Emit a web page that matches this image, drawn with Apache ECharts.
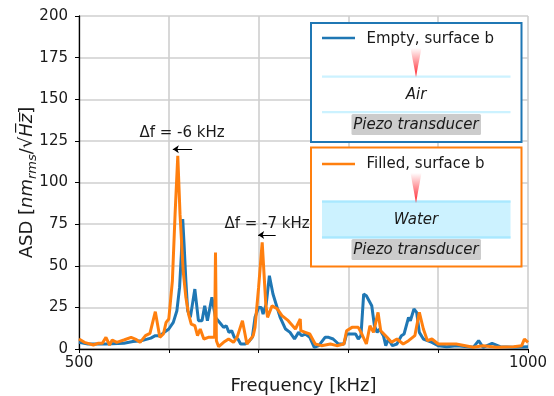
<!DOCTYPE html>
<html>
<head>
<meta charset="utf-8">
<style>html,body{margin:0;padding:0;background:#fff}#chart{width:554px;height:396px}</style>
<script src="https://cdn.jsdelivr.net/npm/echarts@6/dist/echarts.min.js"></script>
</head>
<body>
<div id="chart"></div>
<script>
// values
const emptyFreq = [500,510,530,550,560,570,580,585,590,595,600,605,609,612,614,615.5,617,619,621,624,626,629,633,637,640,643,648,652,655,658,661,664,667,670,673,677,680,685,690,693,696,700,703,705,708.5,712,716,720,724,730,735,740,744.5,748,752,757,762,767,774,778,783,789,795,798,803,808,811,814,817,820,826,829,832,834.5,839,841.6,844.5,849,854,859,862,867,869,873,876,879,883.5,893,900,909.5,920.6,939,945,950,960,969,984,1000];
const emptyAsd = [4,3,3,3.5,4.5,5,6.5,8,8,10,12,16,23,37,57,78,63,41,23,19,20,36,17,17,26,17,31,19,17,15,13,14,10,11,7,6,3,3,5,7,19,25,25,21,27,44,33,26,19,12,10,6,10,8,9,7,1,2,7,7,6,3,3,9,9,9,6,8,33,32,26,14,10,12,8,2,6,2,3,8,9,19,17,24,22,10,6,4,2,1.4,2,1,5,1,3.4,1.4,1,1.4];
const filledFreq = [500,502,506,510,516,521,526,530,534,537,542,550,558,564,568,574,579,585,590,594,597,600,604,607,610,612.5,616,619,622,625,629,632,635,639,644,651,652,653,655.5,661,666.6,672,676,682,687,694,696,700,704,708,710,715,721,726,733,741,746.4,747,752,757,763,770,780,787,795,798,804,805.6,811,815,820,824,828,833,836,843,848,854,861,867,874,879,883.5,888,893,900,920,939,950,965,984,993,996,1000];
const filledAsd = [6,5,4,3.4,2.4,3.4,3.4,7,2.4,5.4,4,5.4,7,5.6,4,8,9.4,22.4,7,9,16,18,41,81,116,81,47,31,21,15,14,8,12,6,7,7,58,5,1.4,4,6,4,7,17,3,8,13,37,64,27,19,26,24,20,17,12,18,11,10,9,3,2,3,2,3,11,13,14,13,9,3,14,10,22,11,7,4,6,3,5,8,22,12,5,6,3,3,1,2,1,1.4,2,6,4];
const yTicks = [0,25,50,75,100,125,150,175,200];
const xLabelled = [500,1000];

const FONT = '"DejaVu Sans"';
const BLUE = '#1f77b4';
const ORANGE = '#ff7f0e';
const WATER = '#ccf2ff';
const WATER_EDGE = '#a9e8ff';

const zip = (a, b) => a.map((v, i) => [v, b[i]]);

function cone(cx, top, bottom) {
  return {
    type: 'polygon', z: 20,
    shape: {points: [[cx - 5.5, top], [cx + 5.5, top], [cx, bottom]]},
    style: {fill: new echarts.graphic.LinearGradient(0, 0, 0, 1, [
      {offset: 0, color: 'rgba(255,30,40,0)'},
      {offset: 1, color: 'rgba(255,30,40,1)'}
    ])}
  };
}
function label(text, x, y, size, italic, align) {
  return {
    type: 'text', z: 25, x: x, y: y,
    style: {text: text, font: (italic ? 'italic ' : '') + size + 'px ' + FONT, fill: '#1a1a1a',
      align: align || 'center', verticalAlign: 'middle'}
  };
}
function rect(x, y, w, h, fill, extra) {
  return Object.assign({type: 'rect', z: 18, shape: {x: x, y: y, width: w, height: h}, style: {fill: fill}}, extra || {});
}

const chart = echarts.init(document.getElementById('chart'), null, {renderer: 'canvas'});
chart.setOption({
  animation: false,
  backgroundColor: '#fff',
  textStyle: {fontFamily: FONT},
  grid: {left: 79, right: 26, top: 16, bottom: 47, outerBoundsMode: 'none'},
  xAxis: {
    type: 'value', min: 500, max: 1000, interval: 100,
    name: 'Frequency [kHz]', nameLocation: 'middle', nameGap: 28,
    nameTextStyle: {fontSize: 18, color: '#1a1a1a'},
    axisLine: {onZero: false, lineStyle: {color: '#000', width: 1.3}},
    axisTick: {length: 4, lineStyle: {color: '#000', width: 1}},
    axisLabel: {fontSize: 15, color: '#1a1a1a', margin: 7, showMinLabel: true, showMaxLabel: true,
      formatter: v => xLabelled.includes(v) ? String(v) : ''},
    splitLine: {lineStyle: {color: '#cfcfcf', width: 1.6}}
  },
  yAxis: {
    type: 'value', min: 0, max: 200, interval: 25,
    name: '{n|ASD [}{i|nm}{s|rms}{n|/√}{i|H\u0305z\u0305}{n|]}', nameLocation: 'middle', nameRotate: 90, nameGap: 40,
    nameMoveOverlap: false,
    nameTextStyle: {
      rich: {
        n: {fontSize: 18, color: '#1a1a1a', fontFamily: FONT},
        i: {fontSize: 18, color: '#1a1a1a', fontFamily: FONT, fontStyle: 'italic'},
        s: {fontSize: 13, color: '#1a1a1a', fontFamily: FONT, fontStyle: 'italic', verticalAlign: 'bottom', lineHeight: 24}
      }
    },
    axisLine: {show: true, lineStyle: {color: '#000', width: 1.3}},
    axisTick: {show: true, length: 4, lineStyle: {color: '#000', width: 1}},
    axisLabel: {fontSize: 15, color: '#1a1a1a', margin: 11, formatter: v => yTicks.includes(v) ? String(v) : ''},
    splitLine: {lineStyle: {color: '#cfcfcf', width: 1.6}}
  },
  series: [
    {
      name: 'Empty, surface b', type: 'line', data: zip(emptyFreq, emptyAsd),
      showSymbol: false, lineStyle: {color: BLUE, width: 3}, itemStyle: {color: BLUE}, z: 3
    },
    {
      name: 'Filled, surface b', type: 'line', data: zip(filledFreq, filledAsd),
      showSymbol: false, lineStyle: {color: ORANGE, width: 3}, itemStyle: {color: ORANGE}, z: 4,
      markLine: {
        silent: true, animation: false, symbol: ['none', 'arrow'], symbolSize: 6,
        label: {show: false},
        lineStyle: {color: '#000', width: 1, type: 'solid'},
        data: [
          [{coord: [626, 120]}, {coord: [604.5, 120]}],
          [{coord: [719, 68.5]}, {coord: [699.5, 68.5]}]
        ]
      }
    }
  ],
  graphic: [
    label('Δf = -6 kHz', 182, 133, 15),
    label('Δf = -7 kHz', 267, 224, 15),
    // top panel
    rect(311, 23, 210.5, 119, '#fff', {style: {fill: '#fff', stroke: BLUE, lineWidth: 2}}),
    {type: 'line', z: 20, shape: {x1: 322, y1: 38, x2: 355, y2: 38}, style: {stroke: BLUE, lineWidth: 2.5}},
    label('Empty, surface b', 366.5, 39, 15, false, 'left'),
    cone(416, 48, 77),
    rect(322, 75.5, 188.5, 2.2, WATER),
    label('Air', 416, 95, 15, true),
    rect(322, 111, 188.5, 2.2, WATER),
    rect(351.5, 114, 129.5, 21, '#cccccc', {shape: {x: 351.5, y: 114, width: 129.5, height: 21, r: 1.5}}),
    label('Piezo transducer', 416, 125, 15, true),
    // bottom panel
    rect(311, 147.5, 210.5, 119, '#fff', {style: {fill: '#fff', stroke: ORANGE, lineWidth: 2}}),
    {type: 'line', z: 20, shape: {x1: 322, y1: 164, x2: 355, y2: 164}, style: {stroke: ORANGE, lineWidth: 2.5}},
    label('Filled, surface b', 366.5, 164, 15, false, 'left'),
    rect(322, 200.5, 188.5, 38, WATER),
    rect(322, 200.5, 188.5, 2.2, WATER_EDGE),
    rect(322, 236.3, 188.5, 2.2, WATER_EDGE),
    cone(416, 173, 203),
    label('Water', 416, 220, 15, true),
    rect(351.5, 239, 129.5, 21, '#cccccc', {shape: {x: 351.5, y: 239, width: 129.5, height: 21, r: 1.5}}),
    label('Piezo transducer', 416, 250, 15, true)
  ]
});
</script>
</body>
</html>
